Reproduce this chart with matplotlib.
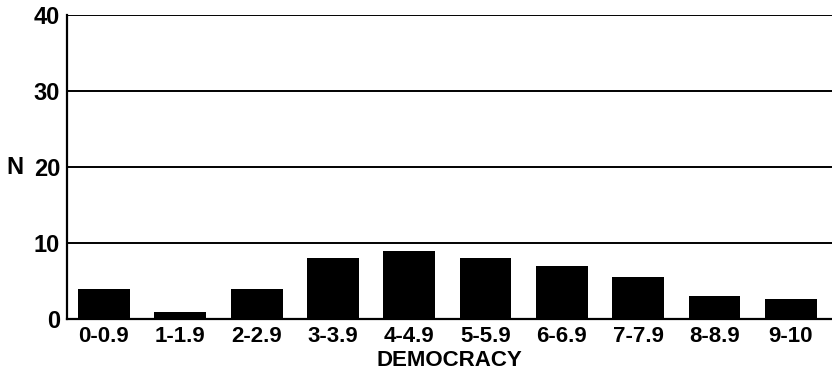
import matplotlib.pyplot as plt

# democracy score bins and number of cases in each
bins = ['0-0.9', '1-1.9', '2-2.9', '3-3.9', '4-4.9',
        '5-5.9', '6-6.9', '7-7.9', '8-8.9', '9-10']
counts = [4, 1, 4, 8, 9, 8, 7, 5.5, 3, 2.7]
yticks = [0, 10, 20, 30, 40]

plt.rcParams['font.family'] = ['Liberation Sans', 'DejaVu Sans']
plt.rcParams['font.weight'] = 'bold'

fig = plt.figure(figsize=(8.32, 3.75), dpi=100)
ax = fig.add_axes([0.0805, 0.149, 0.9195, 0.811])

x = list(range(len(bins)))
ax.bar(x, counts, width=0.68, color='black', zorder=3)

for v in yticks[1:]:
    ax.axhline(v, color='black', lw=1.4, zorder=1)

ax.set_xlim(-0.485, 9.54)
ax.set_ylim(0, 40)
ax.set_xticks(x)
ax.set_xticklabels(bins, fontsize=16, fontweight='bold')
ax.set_yticks(yticks)
ax.set_yticklabels([str(v) for v in yticks], fontsize=17, fontweight='bold')
ax.tick_params(length=0, pad=5)

for s in ['top', 'right']:
    ax.spines[s].set_visible(False)
ax.spines['left'].set_linewidth(1.6)
ax.spines['bottom'].set_linewidth(1.6)

ax.set_xlabel('DEMOCRACY', fontsize=16, fontweight='bold', labelpad=2)
fig.text(0.008, 1 - 168 / 375, 'N', fontsize=17, fontweight='bold', va='center')

fig.savefig('out.png', dpi=100)
